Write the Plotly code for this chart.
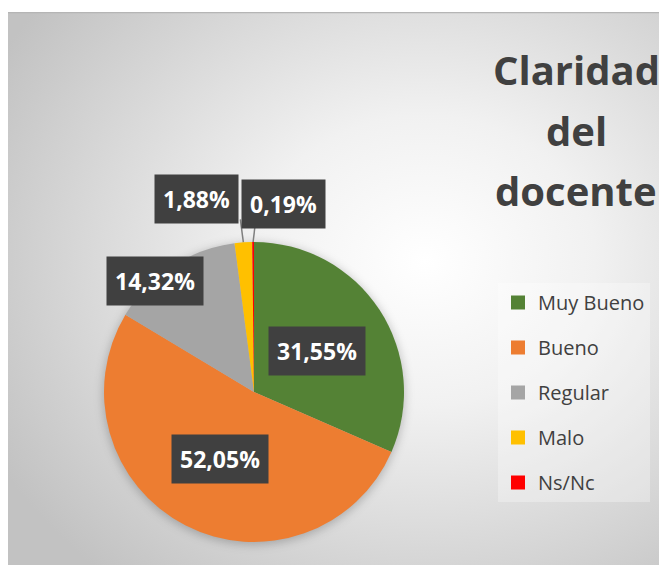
import base64
import math
import plotly.graph_objects as go

# ---------------- data ----------------
categories = ["Muy Bueno", "Bueno", "Regular", "Malo", "Ns/Nc"]
values = [31.55, 52.05, 14.32, 1.88, 0.19]
value_labels = ["31,55%", "52,05%", "14,32%", "1,88%", "0,19%"]
colors = ["#548235", "#ED7D31", "#A5A5A5", "#FFC000", "#FF0000"]
title_lines = ["Claridad", "del", "docente"]

# ---------------- geometry / style ----------------
W, H = 659, 565
CX, CY, R = 254, 392, 150          # pie centre / radius in px
# label placement style: (radius fraction, dx px, dy px, leader dx, leader dy)
label_style = [
    (0.5, 0, 0, None, None),
    (0.5, 0, 0, None, None),
    (1.0, -17, 14, None, None),
    (1.0, -47, -43, -3, -23),
    (1.0, 30, -38, 2, -17),
]


def px(x):
    return x / W


def py(y):
    return 1 - y / H


fig = go.Figure()

fig.add_trace(go.Pie(
    labels=categories,
    values=values,
    sort=False,
    direction="clockwise",
    rotation=0,
    marker=dict(colors=colors, line=dict(width=0)),
    textinfo="none",
    hoverinfo="label+percent",
    showlegend=False,
    domain=dict(x=[px(CX - R), px(CX + R)], y=[py(CY + R), py(CY - R)]),
))

# legend entries (one group each so spacing can be controlled)
for name, col in zip(categories, colors):
    fig.add_trace(go.Scatter(
        x=[None], y=[None], mode="markers", name=name,
        legendgroup=name,
        marker=dict(symbol="square", size=14, color=col),
        hoverinfo="skip",
    ))

# data labels computed from slice angles
total = sum(values)
cum = 0.0
annotations = []
shapes = []
for v, lab, st in zip(values, value_labels, label_style):
    mid = (cum + v / 2) / total * 2 * math.pi
    cum += v
    f, dx, dy, lx, ly = st
    ax_ = CX + f * R * math.sin(mid)
    ay_ = CY - f * R * math.cos(mid)
    annotations.append(dict(
        x=px(ax_ + dx), y=py(ay_ + dy), xref="paper", yref="paper",
        text=lab, showarrow=False,
        font=dict(family="Open Sans", size=23, color="white", weight="bold"),
        bgcolor="#404040", borderpad=8,
        xanchor="center", yanchor="middle",
    ))
    if lx is not None:
        shapes.append(dict(
            type="line", xref="paper", yref="paper",
            x0=px(ax_), y0=py(ay_), x1=px(ax_ + lx), y1=py(ay_ + ly),
            line=dict(color="#7f7f7f", width=1.5), layer="below",
        ))

# title, one annotation per line
title_y = [70, 130, 190]
for t, yy in zip(title_lines, title_y):
    annotations.append(dict(
        x=px(576), y=py(yy), xref="paper", yref="paper", text=t,
        showarrow=False,
        font=dict(family="Open Sans", size=40, color="#404040", weight="bold"),
        xanchor="center", yanchor="middle",
    ))

# background: radial gradient + pie shadow
bx, by = 8, 12
bw, bh = W - bx, H - by
svg = f"""<svg xmlns='http://www.w3.org/2000/svg' width='{bw}' height='{bh}' viewBox='0 0 {bw} {bh}' preserveAspectRatio='none'>
<defs>
<radialGradient id='g' cx='0.64' cy='0.45' r='0.75'>
<stop offset='0' stop-color='#ffffff'/>
<stop offset='0.35' stop-color='#f1f1f1'/>
<stop offset='1' stop-color='#c2c2c2'/>
</radialGradient>
<filter id='b' x='-30%' y='-30%' width='160%' height='160%'><feGaussianBlur stdDeviation='5'/></filter>
</defs>
<rect width='{bw}' height='{bh}' fill='url(#g)'/>
<circle cx='{CX - bx}' cy='{CY - by + 2}' r='{R + 1}' fill='#000' fill-opacity='0.22' filter='url(#b)'/>
<line x1='0' y1='0.5' x2='{bw}' y2='0.5' stroke='#b5b5b5' stroke-width='1.5'/>
</svg>"""
src = "data:image/svg+xml;base64," + base64.b64encode(svg.encode()).decode()

fig.update_layout(
    width=W, height=H,
    margin=dict(l=0, r=0, t=0, b=0),
    paper_bgcolor="white",
    plot_bgcolor="rgba(0,0,0,0)",
    xaxis=dict(visible=False),
    yaxis=dict(visible=False),
    images=[dict(source=src, xref="paper", yref="paper", x=px(bx), y=py(by),
                 sizex=bw / W, sizey=bh / H, xanchor="left", yanchor="top",
                 sizing="stretch", layer="below")],
    annotations=annotations,
    shapes=shapes,
    showlegend=True,
    legend=dict(
        x=px(498), y=py(283), xanchor="left", yanchor="top",
        font=dict(family="Open Sans", size=20, color="#404040"),
        bgcolor="rgba(255,255,255,0.3)",
        tracegroupgap=16,
        itemclick=False, itemdoubleclick=False,
    ),
)

fig.write_html(
    "out.html",
    config={"displayModeBar": False},
    post_script="document.documentElement.style.margin='0';"
                "document.body.style.margin='0';"
                "document.body.style.overflow='hidden';",
)
